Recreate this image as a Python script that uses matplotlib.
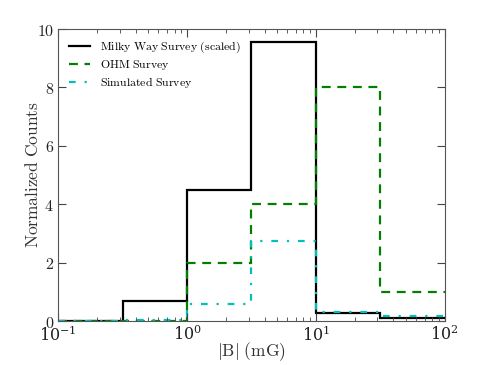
import numpy as np
import matplotlib
matplotlib.use("Agg")
import matplotlib.pyplot as plt

plt.rcParams["mathtext.fontset"] = "cm"
plt.rcParams["font.family"] = "serif"
plt.rcParams["font.serif"] = ["DejaVu Serif"]

# Histogram bins in |B| (mG), log spaced
binEdges = [0.1, 0.316, 1.0, 3.16, 10.0, 31.6, 100.0]

# Bin heights
milkyWay = [0.0, 0.68, 4.5, 9.55, 0.26, 0.09]
ohm = [0.0, 0.0, 2.0, 4.0, 8.0, 1.0]
simulated = [0.0, 0.03, 0.58, 2.74, 0.32, 0.16]

fig = plt.figure(figsize=(4.85, 3.65), dpi=100)
ax = fig.add_axes([0.12, 0.1205, 0.797, 0.80])

ax.stairs(milkyWay, binEdges, color="k", lw=1.6, label="Milky Way Survey (scaled)", baseline=None)
ax.stairs(ohm, binEdges, color="g", lw=1.6, ls=(0, (4, 3)), label="OHM Survey", baseline=None)
ax.stairs(simulated, binEdges, color="c", lw=1.6, ls=(0, (3, 4, 1, 4)), label="Simulated Survey",
          baseline=None)

ax.set_xscale("log")
ax.set_xlim(0.1, 100)
ax.set_ylim(0, 10)
ax.set_yticks([0, 2, 4, 6, 8, 10])
ax.set_yticklabels([r"$%d$" % v for v in [0, 2, 4, 6, 8, 10]])
ax.tick_params(which="both", direction="in", top=True, right=True, labelsize=11.5,
               colors="#444444", labelcolor="#222222")
ax.tick_params(axis="y", pad=3)
ax.tick_params(axis="x", pad=3)
ax.tick_params(which="major", length=6)
ax.tick_params(which="minor", length=3)
for s in ax.spines.values():
    s.set_color("#555555")

ax.set_xlabel(r"$|\mathrm{B}|\ \mathrm{(mG)}$", fontsize=12.5, color="#333333", labelpad=-3)
ax.set_ylabel(r"$\mathrm{Normalized\ Counts}$", fontsize=12.5, color="#333333", labelpad=-4)

leg = ax.legend(loc="upper left", frameon=False, fontsize=8.5, handlelength=1.8,
                borderaxespad=0.5, labelspacing=0.25)
for t in leg.get_texts():
    t.set_text(r"$\mathrm{" + t.get_text().replace(" ", r"\ ") + "}$")

fig.savefig("out.png", dpi=100)
